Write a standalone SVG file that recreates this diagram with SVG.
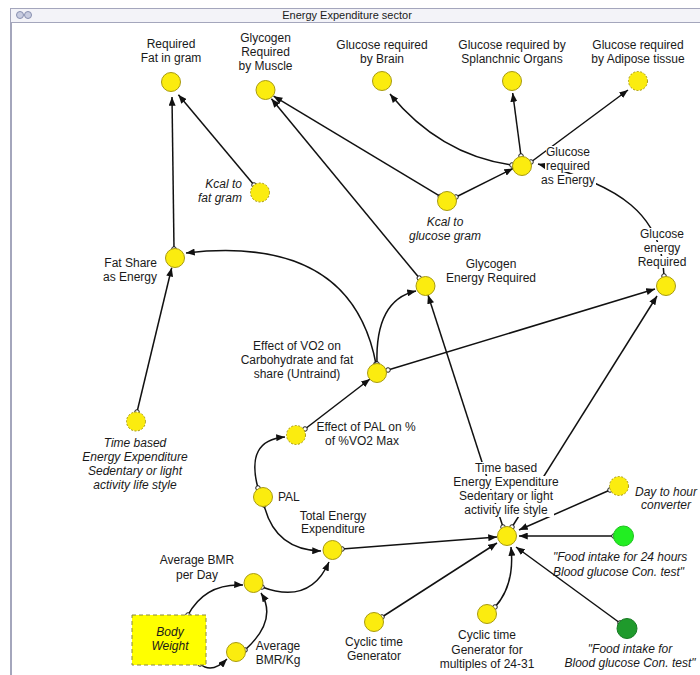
<svg xmlns="http://www.w3.org/2000/svg" width="700" height="675" viewBox="0 0 700 675">
<defs>
<marker id="arr" viewBox="0 0 10 8" refX="10" refY="4" markerWidth="9" markerHeight="7" markerUnits="userSpaceOnUse" orient="auto"><path d="M0,0 L10,4 L0,8 z" fill="#111"/></marker>
<marker id="src" viewBox="-4 -4 8 8" refX="0" refY="0" markerWidth="7" markerHeight="7" markerUnits="userSpaceOnUse"><circle r="2.6" fill="#fff" stroke="#111" stroke-width="1.1"/></marker>
<style>
text{font-family:"Liberation Sans",Arial,sans-serif;font-size:12px;fill:#1a1a1a;text-anchor:middle}
.it{font-style:italic}
.st{text-anchor:start}
.en{text-anchor:end}
.n{fill:#fbec0f;stroke:#a89a10;stroke-width:1}
.g{stroke-dasharray:2 1.6}
.c path{fill:none;stroke:#111;stroke-width:1.5;marker-end:url(#arr);marker-start:url(#src)}
.bg{fill:#fff}
</style>
</defs>
<rect width="700" height="675" fill="#fff"/>
<g id="window">
<rect x="10.5" y="8.5" width="700" height="14" fill="#f3f3f8" stroke="#a4a6bc"/>
<line x1="11" y1="22" x2="11" y2="675" stroke="#a4a6bc" stroke-width="2"/>
<circle cx="20" cy="15" r="3.5" fill="#c8cce0" stroke="#8890b0"/>
<circle cx="28" cy="15" r="3.5" fill="#c8cce0" stroke="#8890b0"/>
<text x="347" y="19" style="font-size:11px">Energy Expenditure sector</text>
</g>
<g id="connectors" class="c">
<path d="M174 249 L172 97"/>
<path d="M254 185 L178.4 94.7"/>
<path d="M440.3 196.4 L273.6 96.2"/>
<path d="M419.3 278.1 L271.4 98.7"/>
<path d="M456 197 L513 168.5"/>
<path d="M512 165 Q440 155 390 94"/>
<path d="M521 156 L512.7 93"/>
<path d="M531 162 L628 90"/>
<path d="M664 276 C662 215 620 185 538 164"/>
<path d="M376 364 C360 280 300 240 186 253"/>
<path d="M377 364 Q375 300 416 291"/>
<path d="M388 370 L655 289"/>
<path d="M503 527 L428 295"/>
<path d="M512 527 L657 296"/>
<path d="M305 429 L370 379"/>
<path d="M258 488 Q245 440 285 437"/>
<path d="M264 505 Q275 550 321 551"/>
<path d="M137 412 L171.7 267.7"/>
<path d="M342 549 L497 537"/>
<path d="M262 587 Q310 605 329 562"/>
<path d="M188 615 Q205 583 243 585"/>
<path d="M200 664 Q212 674 227 659"/>
<path d="M245 650 Q278 620 261 593"/>
<path d="M382 617 L497 543"/>
<path d="M495 607 Q515 585 511 547"/>
<path d="M610 490 L519 530"/>
<path d="M614 536 L519 536"/>
<path d="M620 623 L516 547"/>
</g>
<g id="n_req_fat"><circle class="n" cx="171" cy="82" r="9.5"/><text x="171" y="48">Required</text><text x="171" y="62">Fat in gram</text></g>
<g id="n_glycogen_muscle"><circle class="n" cx="265.5" cy="90" r="9.5"/><text x="265.5" y="42">Glycogen</text><text x="265.5" y="56">Required</text><text x="265.5" y="70">by Muscle</text></g>
<g id="n_brain"><circle class="n" cx="382" cy="81" r="9.5"/><text x="382" y="49">Glucose required</text><text x="382" y="63">by Brain</text></g>
<g id="n_splanchnic"><circle class="n" cx="512" cy="81" r="9.5"/><text x="512" y="49">Glucose required by</text><text x="512" y="63">Splanchnic Organs</text></g>
<g id="n_adipose"><circle class="n g" cx="638" cy="81" r="9.5"/><text x="638" y="49">Glucose required</text><text x="638" y="63">by Adipose tissue</text></g>
<g id="n_kcal_fat"><circle class="n g" cx="260" cy="192.5" r="9.5"/><text class="it en" x="242" y="188">Kcal to</text><text class="it en" x="242" y="202">fat gram</text></g>
<g id="n_glucose_energy"><circle class="n" cx="522" cy="166" r="9.5"/>
<rect class="bg" x="546" y="146" width="45" height="12"/><rect class="bg" x="545" y="160" width="46" height="12"/><rect class="bg" x="541" y="174" width="55" height="12"/>
<text x="568" y="156">Glucose</text><text x="568" y="170">required</text><text x="568" y="184">as Energy</text></g>
<g id="n_kcal_glucose"><circle class="n" cx="447" cy="201" r="9.5"/><text class="it" x="445" y="226">Kcal to</text><text class="it" x="445" y="240">glucose gram</text></g>
<g id="n_glucose_energy_req"><circle class="n" cx="666" cy="286" r="9.5"/>
<rect class="bg" x="640" y="228" width="45" height="12"/><rect class="bg" x="644" y="242" width="37" height="12"/><rect class="bg" x="637" y="256" width="50" height="12"/>
<text x="662" y="238">Glucose</text><text x="662" y="252">energy</text><text x="662" y="266">Required</text></g>
<g id="n_fat_share"><circle class="n" cx="175" cy="258" r="9.5"/><text class="en" x="157" y="267">Fat Share</text><text class="en" x="157" y="281">as Energy</text></g>
<g id="n_glycogen_energy"><circle class="n" cx="425.5" cy="286" r="9.5"/><text x="491" y="268">Glycogen</text><text x="491" y="282">Energy Required</text></g>
<g id="n_vo2"><circle class="n" cx="377" cy="373" r="9.5"/><text x="297" y="350">Effect of VO2 on</text><text x="297" y="364">Carbohydrate and fat</text><text x="297" y="378">share (Untraind)</text></g>
<g id="n_time_left"><circle class="n g" cx="136" cy="421.5" r="9.5"/><text class="it" x="135" y="447">Time based</text><text class="it" x="135" y="461">Energy Expenditure</text><text class="it" x="135" y="475">Sedentary or light</text><text class="it" x="135" y="489">activity life style</text></g>
<g id="n_effect_pal"><circle class="n g" cx="296" cy="435" r="9.5"/><text x="366" y="431">Effect of PAL on %</text><text x="362" y="445">of %VO2 Max</text></g>
<g id="n_pal"><circle class="n" cx="263" cy="497" r="9.5"/><text class="st" x="278" y="501">PAL</text></g>
<g id="n_total_energy"><circle class="n" cx="332.5" cy="550" r="9.5"/><text x="333" y="520">Total Energy</text><text x="333" y="533">Expenditure</text></g>
<g id="n_bmr_day"><circle class="n" cx="253.5" cy="583" r="9.5"/><text x="197" y="564">Average BMR</text><text x="197" y="579">per Day</text></g>
<g id="n_body_weight"><rect x="132" y="615" width="74" height="50" fill="#ffff00" stroke="#8a8a40" stroke-dasharray="4 3"/><text class="it" x="170" y="636">Body</text><text class="it" x="170" y="650">Weight</text></g>
<g id="n_bmr_kg"><circle class="n" cx="236" cy="652" r="9.5"/><text x="278" y="650">Average</text><text x="278" y="664">BMR/Kg</text></g>
<g id="n_cyclic"><circle class="n" cx="374" cy="622" r="9.5"/><text x="374" y="646">Cyclic time</text><text x="374" y="660">Generator</text></g>
<g id="n_hub"><circle class="n" cx="507" cy="536" r="9.5"/>
<rect class="bg" x="475" y="462" width="63" height="12"/><rect class="bg" x="453" y="476" width="107" height="13"/><rect class="bg" x="457" y="490" width="99" height="13"/><rect class="bg" x="460" y="504" width="94" height="13"/>
<text x="506" y="472">Time based</text><text x="506" y="486">Energy Expenditure</text><text x="506" y="500">Sedentary or light</text><text x="506" y="514">activity life style</text></g>
<g id="n_day_hour"><circle class="n g" cx="619" cy="486" r="9.5"/><text class="it st" x="635" y="496">Day to hour</text><text class="it st" x="641" y="509">converter</text></g>
<g id="n_food24"><circle cx="623.5" cy="536" r="10" fill="#22ee22" stroke="#1ec21e"/><text class="it st" x="553" y="561">"Food intake for 24 hours</text><text class="it st" x="553" y="576">Blood glucose Con. test"</text></g>
<g id="n_multiples"><circle class="n" cx="487" cy="614" r="9.5"/><text x="487" y="639">Cyclic time</text><text x="487" y="654">Generator for</text><text x="487" y="668">multiples of 24-31</text></g>
<g id="n_food_blood"><circle cx="627" cy="628.5" r="10" fill="#1f9a2c" stroke="#177a22"/><text class="it" x="630" y="653">"Food intake for</text><text class="it" x="630" y="667">Blood glucose Con. test"</text></g>
</svg>
